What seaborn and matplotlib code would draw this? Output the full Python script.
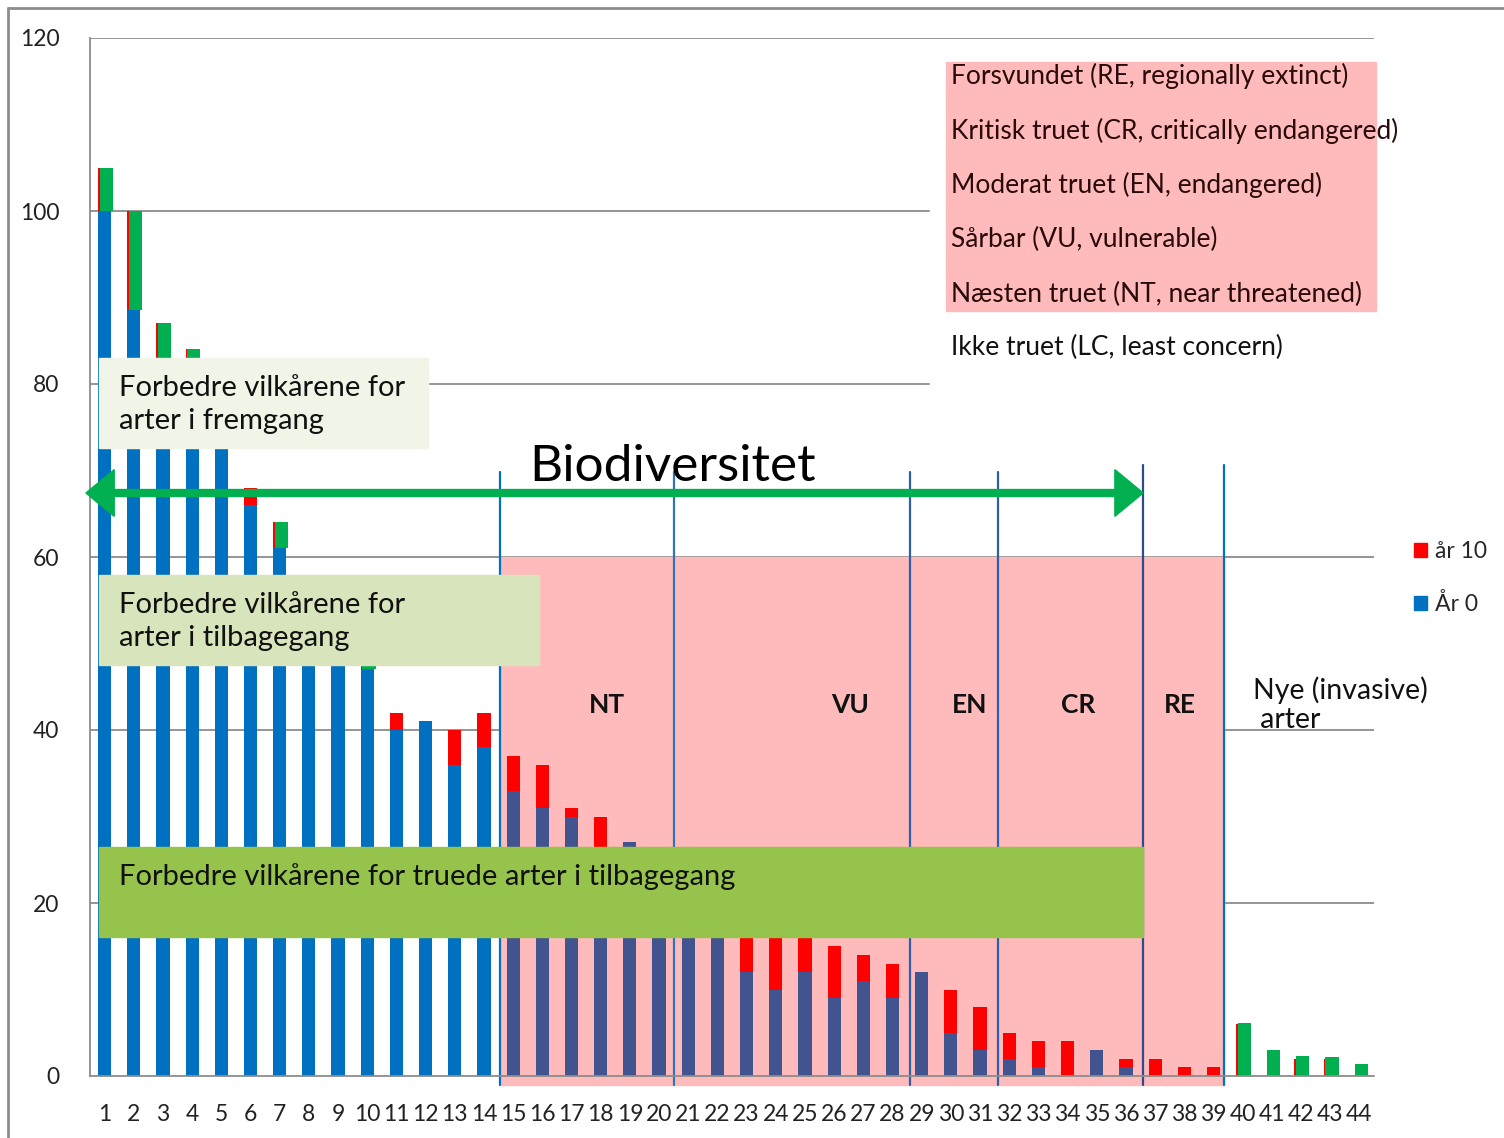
import matplotlib
matplotlib.use("Agg")
import matplotlib.pyplot as plt
from matplotlib.patches import Rectangle, Patch
from matplotlib.lines import Line2D
import seaborn as sns
import numpy as np
import pandas as pd

# arter 1..44, antal ved år 0 (blå) og år 10 (rød), grøn = fremgang
arter = [str(i) for i in range(1, 45)]
aar0 = [100, 88.5, 82, 82, 82, 66, 61, 55, 52, 47, 40, 41, 36, 38, 33, 31, 30, 25, 27, 25,
        24, 16, 12, 10, 12, 9, 11, 9, 12, 5, 3, 2, 1, 0, 3, 1, 0, 0, 0, 0, 0, 0, 0, 0]
aar10 = [105, 100, 87, 84, 82, 68, 64, 55, 52, 48, 42, 41, 40, 42, 37, 36, 31, 30, 27, 25,
         24, 17, 18, 17, 17, 15, 14, 13, 12, 10, 8, 5, 4, 4, 3, 2, 2, 1, 1, 6, 0, 2, 2, 0]
groen_fra = [100, 88.5, 82, 82, 0, 0, 61, 0, 0, 47, 0, 0, 0, 0, 0, 0, 0, 0, 0, 0, 0, 0,
             0, 0, 0, 0, 0, 0, 0, 0, 0, 0, 0, 0, 0, 0, 0, 0, 0, 0, 0, 0, 0, 0]
groen_til = [105, 100, 87, 84, 0, 0, 64, 0, 0, 48, 0, 0, 0, 0, 0, 0, 0, 0, 0, 0, 0, 0,
             0, 0, 0, 0, 0, 0, 0, 0, 0, 0, 0, 0, 0, 0, 0, 0, 0, 6.1, 3, 2.3, 2.2, 1.4]
zone = ["ude"] * 14 + ["roed"] * 25 + ["ude"] * 5

yticks = [0, 20, 40, 60, 80, 100, 120]
kategorier = ["NT", "VU", "EN", "CR", "RE"]
kategori_x = [17.2, 25.55, 29.66, 33.36, 36.85]
rodliste = ["Forsvundet (RE, regionally extinct)",
            "Kritisk truet (CR, critically endangered)",
            "Moderat truet (EN, endangered)",
            "Sårbar (VU, vulnerable)",
            "Næsten truet (NT, near threatened)",
            "Ikke truet (LC, least concern)"]
rodliste_y = [115.6, 109.3, 103.0, 96.7, 90.4, 84.2]

df = pd.DataFrame({"art": arter, "aar0": aar0, "aar10": aar10, "zone": zone})

sns.set_theme(style="white")
plt.rcParams["font.family"] = ["Lato", "DejaVu Sans"]

W, H = 1504, 1138
fig = plt.figure(figsize=(W / 100, H / 100), dpi=100)
ax = fig.add_axes([90 / W, 1 - 1076 / H, 1284 / W, 1038 / H])

grey = "#8c8c8c"
pink = "#FFBBBB"

# gitterlinjer og baggrundsfelter
for y in yticks[1:]:
    ax.axhline(y, color=grey, lw=1.3, zorder=0.2)
ax.add_patch(Rectangle((28.3, 79), 16, 39, color="white", zorder=0.3, clip_on=False))
ax.add_patch(Rectangle((13.55, -1.0), 38.36 - 13.55, 61.0, color=pink, zorder=0.4, clip_on=False))
ax.add_patch(Rectangle((28.83, 88.4), 43.57 - 28.83, 117.2 - 88.4, color=pink, zorder=0.4, clip_on=False))

sns.barplot(data=df, x="art", y="aar10", color="#FF0000", width=0.45, saturation=1,
            errorbar=None, linewidth=0, ax=ax, zorder=2)
sns.barplot(data=df, x="art", y="aar0", hue="zone", palette={"ude": "#0070C0", "roed": "#41548F"},
            dodge=False, width=0.45, saturation=1, errorbar=None, linewidth=0, legend=False,
            ax=ax, zorder=2.1)
fra = np.array(groen_fra)
til = np.array(groen_til)
ax.bar(np.arange(len(arter)) + 0.06, til - fra, bottom=fra, width=0.45, color="#00B050",
       linewidth=0, zorder=2.2)

# lodrette skillelinjer
for xv, top, c in [(13.55, 69.8, "#0070C0"), (19.51, 69.8, "#2E75B6"), (27.6, 69.8, "#2E5FA8"),
                   (30.62, 69.8, "#2E5FA8"), (35.59, 70.6, "#2F4B8F"), (38.36, 70.6, "#0070C0")]:
    ax.plot([xv, xv], [-1.0, top], color=c, lw=1.6, zorder=2.5, clip_on=False)

# tekstbokse
box_kw = dict(zorder=3, clip_on=False)
ax.add_patch(Rectangle((-0.19, 72.6), 11.27, 10.4, color="#F0F5E7", **box_kw))
ax.add_patch(Rectangle((-0.19, 47.5), 15.08, 10.4, color="#D7E4BC", **box_kw))
ax.add_patch(Rectangle((-0.19, 16.1), 35.78, 10.4, color="#96C34B", **box_kw))
tfont = dict(fontsize=21, color="#111111", zorder=5, va="center", ha="left")
ax.text(0.49, 77.6, "Forbedre vilkårene for\narter i fremgang", linespacing=1.33, **tfont)
ax.text(0.49, 52.5, "Forbedre vilkårene for\narter i tilbagegang", linespacing=1.33, **tfont)
ax.text(0.49, 23.1, "Forbedre vilkårene for truede arter i tilbagegang", **tfont)

# biodiversitets-pil
ya = 67.4
ax.plot([-0.1, 35.0], [ya, ya], color="#00B050", lw=6, solid_capstyle="butt", zorder=4, clip_on=False)
ax.fill([-0.64, 0.33, 0.33], [ya, ya + 2.7, ya - 2.7], color="#00B050", zorder=4, clip_on=False)
ax.fill([35.59, 34.62, 34.62], [ya, ya + 2.7, ya - 2.7], color="#00B050", zorder=4, clip_on=False)
ax.text(19.45, 70.4, "Biodiversitet", fontsize=37, ha="center", va="center", color="black", zorder=5)

for k, xk in zip(kategorier, kategori_x):
    ax.text(xk, 42.9, k, fontsize=19, fontweight="bold", ha="center", va="center", color="#111111", zorder=5)
ax.text(39.36, 42.9, "Nye (invasive)\n arter", fontsize=20.5, ha="left", va="center",
        linespacing=1.12, color="#111111", zorder=5)

for t, yt in zip(rodliste, rodliste_y):
    ax.text(29.0, yt, t, fontsize=19, ha="left", va="center",
            color="#2a0a0a" if yt > 88 else "#111111", zorder=5)

# akser
ax.set_xlim(-0.5, len(arter) - 0.5)
ax.set_ylim(0, 120)
ax.set_yticks(yticks)
ax.set_xticks(range(len(arter)))
ax.set_xticklabels(arter)
ax.set_xticks(np.arange(-0.5, len(arter), 1), minor=True)
ax.tick_params(axis="x", which="major", length=0, pad=20, labelsize=16.5, labelcolor="#222222")
ax.tick_params(axis="x", which="minor", length=8, color=grey, width=1.3, direction="out")
ax.tick_params(axis="y", length=8, color=grey, width=1.3, direction="out", pad=14,
               labelsize=16.5, labelcolor="#222222")
for s in ["top", "right"]:
    ax.spines[s].set_visible(False)
for s in ["left", "bottom"]:
    ax.spines[s].set_color(grey)
    ax.spines[s].set_linewidth(1.3)
ax.set_xlabel("")
ax.set_ylabel("")
ax.set_facecolor("none")

handles = [Patch(color="#FF0000"), Patch(color="#0070C0")]
fig.legend(handles, ["år 10", "År 0"], loc="upper left", bbox_to_anchor=(1414 / W, 1 - 541 / H),
           frameon=False, fontsize=16.5, handlelength=0.55, handleheight=0.55, handletextpad=0.35,
           labelspacing=1.35, borderaxespad=0, borderpad=0)

# ramme om diagrammet
fig.add_artist(Line2D([8 / W, 8 / W], [0, 1 - 8 / H], color=grey, lw=2))
fig.add_artist(Line2D([8 / W, 1], [1 - 8 / H, 1 - 8 / H], color=grey, lw=2))

fig.savefig("out.png", dpi=100)
